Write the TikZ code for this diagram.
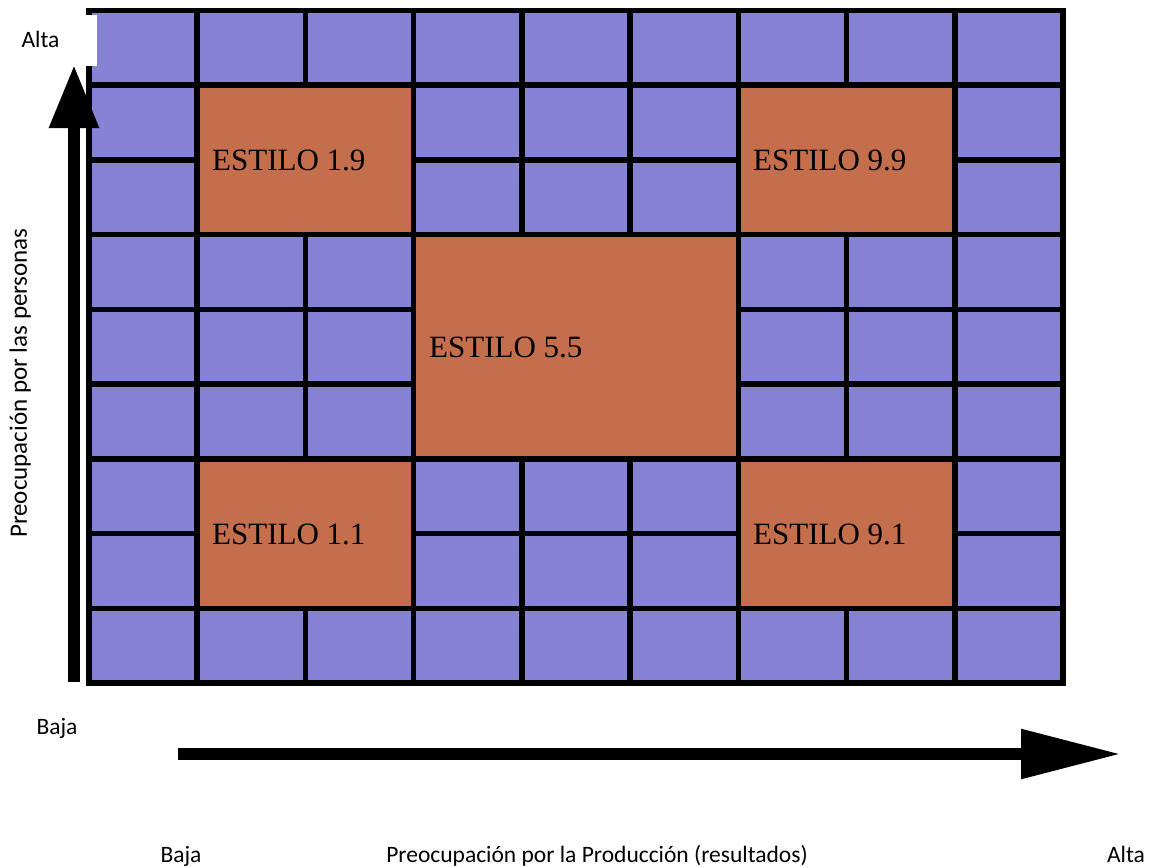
\documentclass[tikz,border=0pt]{standalone}
\usepackage{fontspec}
\setmainfont{Liberation Serif}
\newfontfamily\calfont{Carlito}
\usetikzlibrary{arrows.meta}
\definecolor{cellblue}{RGB}{134,130,212}
\definecolor{blockorange}{RGB}{196,110,76}
\tikzset{
  gridline/.style={line width=5.5pt},
  block/.style={fill=blockorange},
  estilo/.style={anchor=base west, inner sep=0pt, font=\fontsize{31}{31}\selectfont},
  axislabel/.style={inner sep=0pt, anchor=base, font=\calfont\fontsize{23.5}{24}\selectfont},
  vaxisarrow/.style={line width=12pt, -{Triangle[width=47pt,length=63pt]}},
  haxisarrow/.style={line width=12pt, -{Triangle[width=47pt,length=100pt]}},
}
\begin{document}
\begin{tikzpicture}[x=1pt,y=-1pt]
\useasboundingbox (0,0) rectangle (1157,867);
\foreach \i in {0,...,9} {
  \foreach \j in {0,...,9} {
    \coordinate (g\i\j) at ({89+\i*108.222},{10.5+\j*74.722});
  }
}
% background cells
\fill[cellblue] (g00) rectangle (g99);
% grid
\foreach \i in {1,...,8} {
  \draw[gridline] (g\i0) -- (g\i9);
  \draw[gridline] (g0\i) -- (g9\i);
}
\draw[gridline] (g00) rectangle (g99);
% orange blocks
\fill[block] ([shift={(2.75,2.75)}]g11) rectangle ([shift={(-2.75,-2.75)}]g33);
\fill[block] ([shift={(2.75,2.75)}]g61) rectangle ([shift={(-2.75,-2.75)}]g83);
\fill[block] ([shift={(2.75,2.75)}]g33) rectangle ([shift={(-2.75,-2.75)}]g66);
\fill[block] ([shift={(2.75,2.75)}]g16) rectangle ([shift={(-2.75,-2.75)}]g38);
\fill[block] ([shift={(2.75,2.75)}]g66) rectangle ([shift={(-2.75,-2.75)}]g88);
% block labels
\node[estilo] (e19) at (212,170.5) {ESTILO 1.9};
\node[estilo] (e99) at (753,170.5) {ESTILO 9.9};
\node[estilo] (e55) at (429,357.5) {ESTILO 5.5};
\node[estilo] (e11) at (212,544) {ESTILO 1.1};
\node[estilo] (e91) at (753,544) {ESTILO 9.1};
% label box top-left
\fill[white] (10,15) rectangle (97,66);
\node[axislabel] (altaY) at (40.5,48) {Alta};
\node[axislabel] (bajaY) at (57,734) {Baja};
\node[axislabel, rotate=90, font=\calfont\fontsize{25}{25}\selectfont] (ylab) at (27,383) {Preocupación por las personas};
\node[axislabel] (bajaX) at (181,862) {Baja};
\node[axislabel] (xlab) at (597,862) {Preocupación por la Producción (resultados)};
\node[axislabel] (altaX) at (1126,862) {Alta};
% arrows
\coordinate (vtail) at (74,682);
\coordinate (vtip) at (74,65);
\draw[vaxisarrow] (vtail) -- (vtip);
\coordinate (htail) at (178,754);
\coordinate (htip) at (1121,754);
\draw[haxisarrow] (htail) -- (htip);
\end{tikzpicture}
\end{document}
